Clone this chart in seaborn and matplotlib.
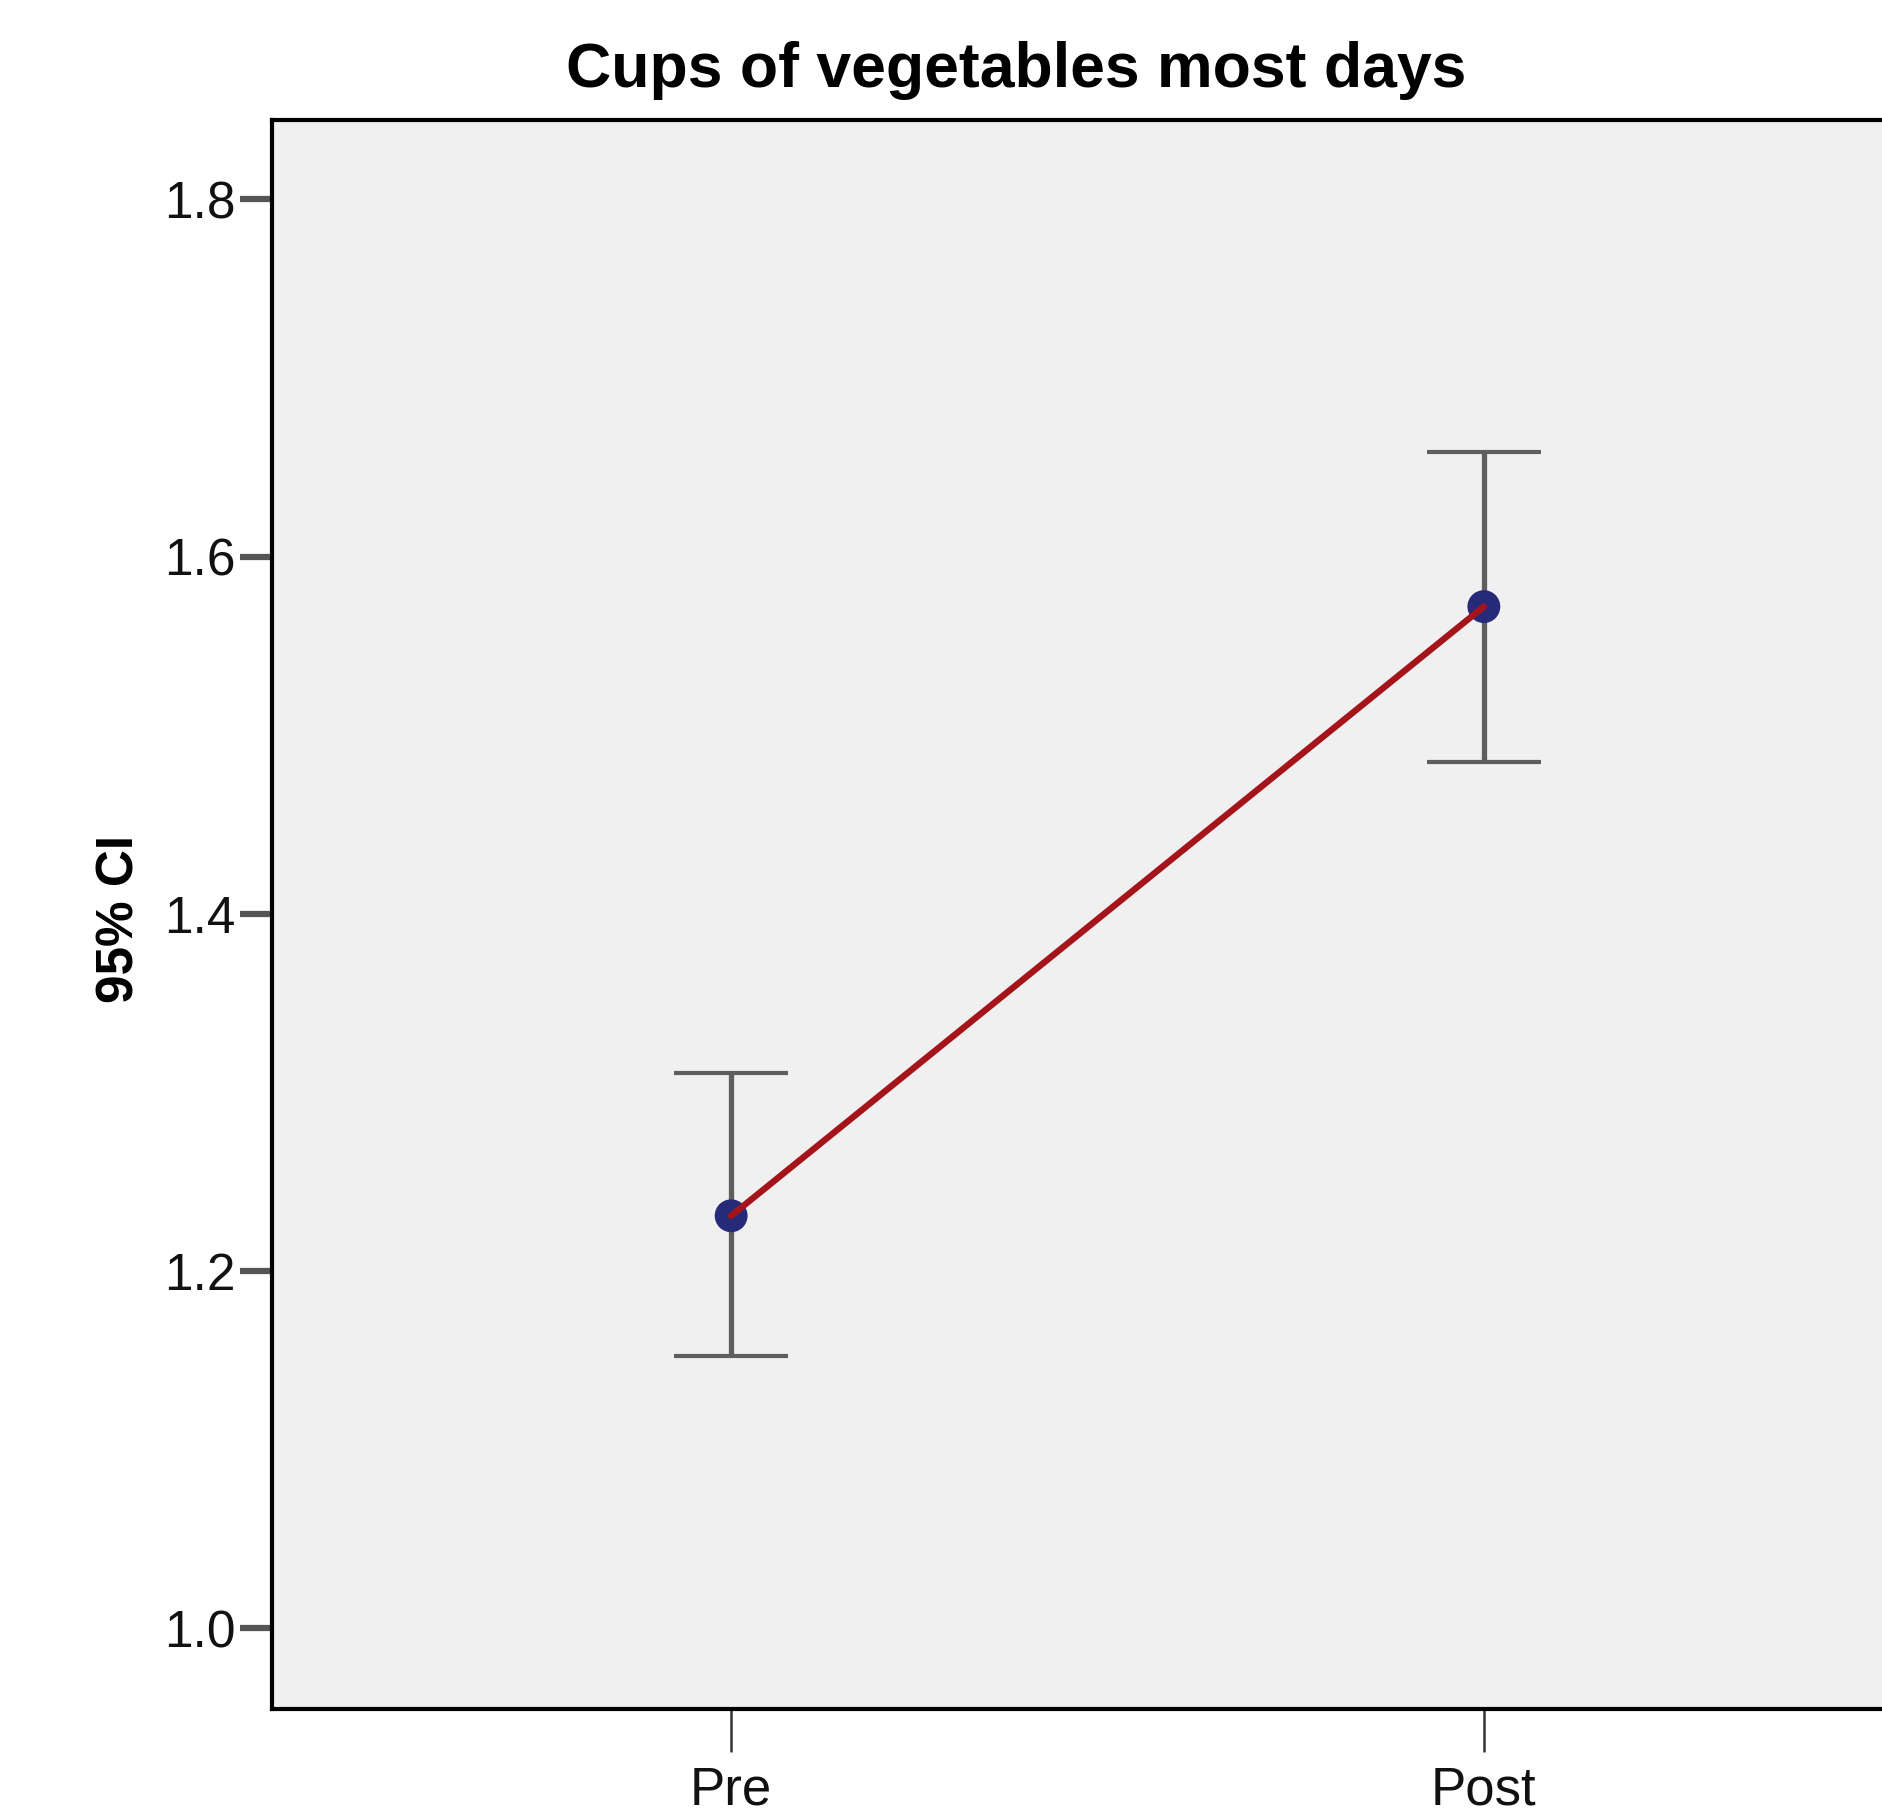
import matplotlib
matplotlib.use("Agg")
import matplotlib.pyplot as plt
import seaborn as sns
import pandas as pd
import numpy as np

# ---- data ----
categories = ["Pre", "Post"]
means = [1.231, 1.572]
ci_lower = [1.1525, 1.4848]
ci_upper = [1.3107, 1.6587]
title = "Cups of vegetables most days"
ylabel = "95% CI"
yticks = [1.0, 1.2, 1.4, 1.6, 1.8]

sns.set_theme(style="white")
plt.rcParams['font.family'] = ['Liberation Sans', 'DejaVu Sans']

df = pd.DataFrame({"time": categories, "mean": means,
                   "lo": ci_lower, "hi": ci_upper})

fig = plt.figure(figsize=(18.83, 18.18), dpi=100)
ax = fig.add_axes([272/1883, 1 - 1709/1818, (1943 - 272)/1883, (1709 - 120)/1818])
ax.set_facecolor("#f0f0f0")

# error bars
x = np.arange(len(categories))
eb = ax.errorbar(x, df["mean"], yerr=[df["mean"] - df["lo"], df["hi"] - df["mean"]],
                 fmt="none", ecolor="#5e5e5e", elinewidth=3.8, capsize=41,
                 capthick=3.0, zorder=2)
for cl in eb[1]:
    cl.set_color("#141414")

# markers
sns.scatterplot(data=df, x="time", y="mean", ax=ax, s=560, color="#262a78",
                edgecolor="none", zorder=3, legend=False)
# line
sns.lineplot(data=df, x="time", y="mean", ax=ax, color="#a5141a", linewidth=4.6,
             zorder=4, sort=False)

ax.set_xlim(-0.61, 1.61)
ax.set_ylim(0.9549, 1.8444)
ax.set_xticks(x)
ax.set_xticklabels(categories, fontsize=38)
ax.set_yticks(yticks)
ax.set_yticklabels([f"{v:.1f}" for v in yticks], fontsize=37)
ax.set_xlabel("")
ax.set_ylabel("")
ax.tick_params(axis="y", direction="out", length=23, width=4.5, color="#555555",
               pad=3, left=True, labelcolor="#111111")
ax.tick_params(axis="x", direction="out", length=31, width=1.8, color="#333333",
               pad=10, bottom=True, labelcolor="#111111")
for side in ["left", "top", "bottom", "right"]:
    ax.spines[side].set_visible(True)
    ax.spines[side].set_color("black")
    ax.spines[side].set_linewidth(3.0)

fig.text(1016/1883, 1 - 86.5/1818, title, ha="center", va="baseline",
         fontsize=45, fontweight="bold", color="black")
fig.text(120/1883, 1 - 919/1818, ylabel, ha="center", va="center", rotation=90,
         fontsize=37, fontweight="bold", color="black")

fig.savefig("out.png", dpi=100, facecolor="white")
